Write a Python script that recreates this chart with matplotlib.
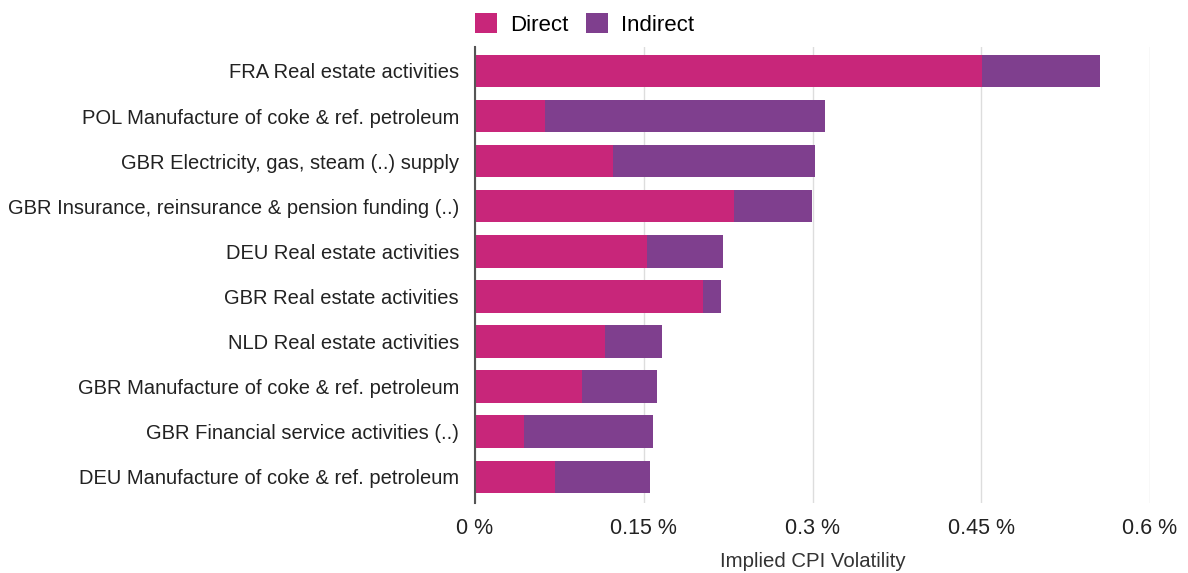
import matplotlib.pyplot as plt
import numpy as np

categories = [
    "FRA Real estate activities",
    "POL Manufacture of coke & ref. petroleum",
    "GBR Electricity, gas, steam (..) supply",
    "GBR Insurance, reinsurance & pension funding (..)",
    "DEU Real estate activities",
    "GBR Real estate activities",
    "NLD Real estate activities",
    "GBR Manufacture of coke & ref. petroleum",
    "GBR Financial service activities (..)",
    "DEU Manufacture of coke & ref. petroleum",
]
direct = [0.4505, 0.0625, 0.1224, 0.2306, 0.1532, 0.2030, 0.1159, 0.0951, 0.0436, 0.0714]
total = [0.5557, 0.3115, 0.3026, 0.2999, 0.2202, 0.2187, 0.1665, 0.1615, 0.1580, 0.1556]
indirect = [t - d for t, d in zip(total, direct)]

xticks = [0, 0.15, 0.3, 0.45, 0.6]
xtick_labels = ["0 %", "0.15 %", "0.3 %", "0.45 %", "0.6 %"]

plt.rcParams["font.family"] = ["Liberation Sans", "DejaVu Sans"]

fig = plt.figure(figsize=(11.88, 5.73), dpi=100)
ax = fig.add_axes([475 / 1188, 1 - 503 / 573, (1150 - 475) / 1188, 456 / 573])

y = np.arange(len(categories))
ax.barh(y, direct, height=0.72, color="#c8267a", label="Direct", zorder=3)
ax.barh(y, indirect, left=direct, height=0.72, color="#7f3f8e", label="Indirect", zorder=3)

ax.set_ylim(len(categories) - 0.42, -0.53)
ax.set_xlim(0, 0.6)
ax.set_yticks(y)
ax.set_yticklabels(categories, fontsize=14.5, color="#222222")
ax.set_xticks(xticks)
ax.set_xticklabels(xtick_labels, fontsize=15.5, color="#222222")
ax.tick_params(axis="both", length=0)
ax.tick_params(axis="y", pad=11.5)
ax.tick_params(axis="x", pad=11)
ax.set_xlabel("Implied CPI Volatility", fontsize=14.7, color="#333333", labelpad=9)

ax.grid(axis="x", color="#dddddd", linewidth=1, zorder=0)
for s in ["top", "right", "bottom"]:
    ax.spines[s].set_visible(False)
ax.spines["left"].set_color("#555555")
ax.spines["left"].set_linewidth(1.5)
ax.spines["left"].set_zorder(4)

fig.legend(loc="upper left", bbox_to_anchor=(455 / 1188, 1.012), ncol=2, frameon=False,
           fontsize=16, handlelength=1.0, handleheight=1.0, handletextpad=0.6,
           columnspacing=0.75)

fig.savefig("out.png")
